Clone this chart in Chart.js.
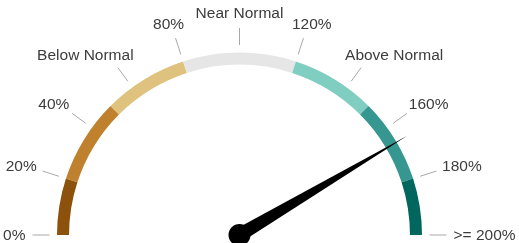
<!DOCTYPE html>
<html>
<head>
<meta charset="utf-8">
<script src="https://cdn.jsdelivr.net/npm/chart.js@4"></script>
<style>
  html, body { margin: 0; padding: 0; background: #fff; }
  #wrap { width: 519px; height: 243px; }
</style>
</head>
<body>
<div id="wrap"><canvas id="gauge" width="519" height="243"></canvas></div>
<script>
// band sizes (percent points) along the 0..200 gauge
const bandSizes = [20, 30, 30, 40, 30, 30, 20];
const bandColors = ['#8c510a', '#bf812d', '#dfc27d', '#e6e6e6', '#80cdc1', '#35978f', '#01665e'];
const tickValues = [0, 20, 40, 60, 80, 100, 120, 140, 160, 180, 200];
const tickLabels = ['0%', '20%', '40%', 'Below Normal', '80%', 'Near Normal', '120%', 'Above Normal', '160%', '180%', '>= 200%'];
const gaugeMax = 200;
const needleValue = 166;

// value -> canvas angle (left = PI, right = 2PI)
function valueAngle(v) {
    return Math.PI + Math.PI * v / gaugeMax;
}

const gaugeLabels = {
    id: 'gaugeLabels',
    afterDatasetsDraw(chart) {
        const arc = chart.getDatasetMeta(0).data[0];
        const cx = arc.x, cy = arc.y, R = arc.outerRadius;
        const c = chart.ctx;
        c.save();
        c.font = '15.5px "Liberation Sans", Arial, sans-serif';
        c.fillStyle = '#3c3c3c';
        c.strokeStyle = '#a8a8a8';
        c.lineWidth = 1;
        tickValues.forEach((v, i) => {
            const a = valueAngle(v);
            const ca = Math.cos(a), sa = Math.sin(a);
            c.beginPath();
            c.moveTo(cx + ca * (R + 7.5), cy + sa * (R + 7.5));
            c.lineTo(cx + ca * (R + 24.5), cy + sa * (R + 24.5));
            c.stroke();
            // anchor point, text shifted depending on angle
            const ax = cx + ca * (R + 31.5), ay = cy + sa * (R + 31.5);
            const w = c.measureText(tickLabels[i]).width;
            const h = 15;
            const tx = ax - w * (1 - ca) / 2;
            const ty = ay - h * (1 - sa) / 2;
            c.textBaseline = 'top';
            c.textAlign = 'left';
            c.fillText(tickLabels[i], tx, ty);
        });

        // needle
        const na = valueAngle(needleValue);
        const len = 195, half = 7;
        const px = -Math.sin(na), py = Math.cos(na);
        c.fillStyle = '#000';
        c.beginPath();
        c.moveTo(cx + px * half, cy + py * half);
        c.lineTo(cx + Math.cos(na) * len, cy + Math.sin(na) * len);
        c.lineTo(cx - px * half, cy - py * half);
        c.closePath();
        c.fill();
        c.beginPath();
        c.arc(cx, cy, 11, 0, Math.PI * 2);
        c.fill();
        c.restore();
    }
};

const ctx = document.getElementById('gauge').getContext('2d');
const gauge = new Chart(ctx, {
    type: 'doughnut',
    data: {
        labels: bandColors.map((c, i) => 'band ' + (i + 1)),
        datasets: [{
            data: bandSizes,
            backgroundColor: bandColors,
            borderWidth: 0,
            hoverOffset: 0
        }]
    },
    options: {
        responsive: false,
        animation: false,
        rotation: -90,
        circumference: 180,
        cutout: '93.4%',
        layout: {
            padding: { left: 57, right: 97, top: 52.5, bottom: 8 }
        },
        plugins: {
            legend: { display: false },
            tooltip: { enabled: false }
        }
    },
    plugins: [gaugeLabels]
});
</script>
</body>
</html>
